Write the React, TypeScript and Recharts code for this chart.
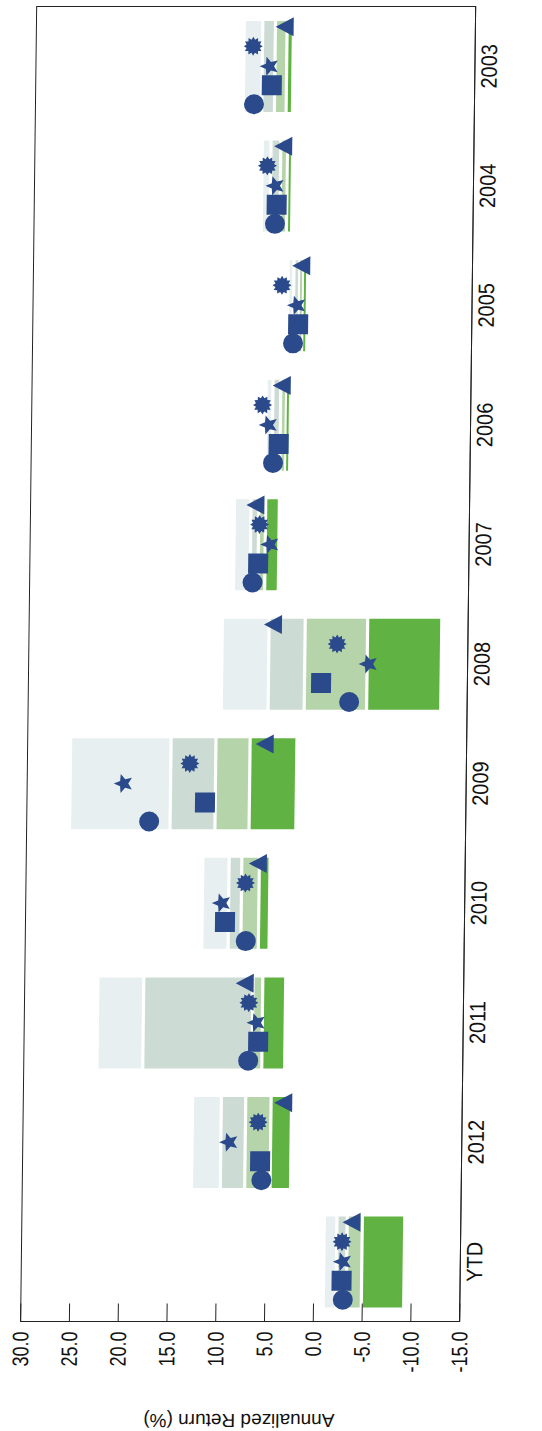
import { Bar, ComposedChart, Label, ReferenceArea, Scatter, XAxis, YAxis } from 'recharts';

const periods = ['YTD', '2012', '2011', '2010', '2009', '2008', '2007', '2006', '2005', '2004', '2003'];

// peer universe percentiles
const p5 = [-1.0, 12.65, 22.5, 11.9, 25.6, 10.2, 9.1, 6.0, 3.9, 6.7, 8.7];
const p25 = [-2.3, 9.7, 17.8, 9.2, 15.3, 5.4, 7.4, 5.3, 3.3, 5.8, 6.8];
const median = [-3.35, 7.2, 6.6, 7.9, 10.7, 1.7, 6.6, 4.5, 2.7, 4.8, 5.5];
const p75 = [-4.9, 4.6, 5.6, 6.1, 7.2, -4.7, 5.9, 3.9, 2.4, 4.1, 4.3];
const p95 = [-9.25, 2.5, 3.25, 5.0, 2.4, -12.3, 4.5, 3.6, 1.9, 3.6, 3.65];

// portfolio / benchmark markers
const circleVals = [-3.0, 5.5, 7.0, 7.4, 17.45, -2.9, 7.15, 5.2, 3.3, 5.3, 7.6];
const squareVals = [-2.85, 5.65, 6.0, 9.55, 11.75, 0.0, 6.6, 4.65, 2.8, 5.15, 5.8];
const starVals = [-2.95, 8.85, 6.2, 9.9, 20.1, -4.85, 5.4, 5.7, 2.95, 5.3, 6.05];
const burstVals = [-2.85, 5.9, 7.0, 7.5, 13.35, -1.6, 6.5, 6.35, 4.5, 6.15, 7.75];
const triangleVals = [-3.9, 3.25, 7.35, 6.15, 5.6, 4.9, 6.85, 4.3, 2.45, 4.45, 4.45];

const valueTicks = [30, 25, 20, 15, 10, 5, 0, -5, -10, -15];

const NAVY = '#2b4a8b';
const BOX_COLORS = ['#e7eff1', '#cddbd5', '#b5d4aa', '#60b343'];
const FONT = '"Liberation Sans", Arial, sans-serif';

const data = periods.map((period, i) => ({
  period,
  r1: [p25[i], p5[i]],
  r2: [median[i], p25[i]],
  r3: [p75[i], median[i]],
  r4: [p95[i], p75[i]],
  circle: circleVals[i],
  square: squareVals[i],
  star: starVals[i],
  burst: burstVals[i],
  triangle: triangleVals[i],
}));

// box with a thin white gap on the value edges, never thinner than 2px
function Box(props: any) {
  const { x, y, width, height, fill } = props;
  const top = Math.min(y, y + height);
  const h = Math.abs(height);
  let t = top + 1.6;
  let hh = h - 3.2;
  if (hh < 2) {
    t = top + h / 2 - 1;
    hh = 2;
  }
  return <rect x={x} y={t} width={width} height={hh} fill={fill} />;
}

function starPoints(cx: number, cy: number, n: number, ro: number, ri: number) {
  const pts: string[] = [];
  for (let i = 0; i < 2 * n; i++) {
    const r = i % 2 === 0 ? ro : ri;
    const a = -Math.PI / 2 + (i * Math.PI) / n;
    pts.push(`${cx + r * Math.cos(a)},${cy + r * Math.sin(a)}`);
  }
  return pts.join(' ');
}

const CircleMark = ({ cx, cy }: any) => <circle cx={cx - 38} cy={cy} r={10} fill={NAVY} />;
const SquareMark = ({ cx, cy }: any) => <rect x={cx - 19 - 10} y={cy - 10} width={20} height={20} fill={NAVY} />;
const StarMark = ({ cx, cy }: any) => <polygon points={starPoints(cx, cy, 5, 10, 4.5)} fill={NAVY} />;
const BurstMark = ({ cx, cy }: any) => <polygon points={starPoints(cx + 20, cy, 12, 9.5, 6.8)} fill={NAVY} />;
const TriangleMark = ({ cx, cy }: any) => (
  <polygon
    points={`${cx + 39.5},${cy - 10} ${cx + 30},${cy + 8} ${cx + 49},${cy + 8}`}
    fill={NAVY}
  />
);

// printed digits are taller than the font's own shape
const ValueTick = ({ x, y, payload }: any) => (
  <text
    transform={`translate(${x},${y}) scale(1,1.25)`}
    textAnchor="end"
    dy="0.355em"
    fontSize={18}
    fill="#111"
    fontFamily={FONT}
  >
    {Number(payload.value).toFixed(1)}
  </text>
);

const PeriodTick = ({ x, y, payload }: any) => (
  <text
    transform={`translate(${x},${y}) scale(1,1.12)`}
    textAnchor="middle"
    dy="0.71em"
    fontSize={20}
    fill="#111"
    fontFamily={FONT}
  >
    {payload.value}
  </text>
);

export default function App() {
  return (
    <div style={{ position: 'absolute', left: 0, top: 0, width: 542, height: 1431, overflow: 'hidden', background: '#fff' }}>
      <div
        style={{
          position: 'absolute',
          left: (542 - 1431) / 2,
          top: (1431 - 542) / 2,
          width: 1431,
          height: 542,
          // chart is printed sideways, and the scan leans a little
          transform: 'skewX(-0.7deg) rotate(-90deg)',
          fontFamily: FONT,
        }}
      >
        <ComposedChart
          width={1431}
          height={542}
          data={data}
          margin={{ top: 27.5, right: 6, bottom: 35.5, left: 0 }}
          barGap={-91}
        >
          <XAxis
            dataKey="period"
            height={40}
            tickLine={false}
            tickSize={5}
            tickMargin={1}
            axisLine={{ stroke: '#222' }}
            tick={<PeriodTick />}
            interval={0}
          />
          <YAxis
            width={110}
            type="number"
            domain={[-15, 30]}
            ticks={valueTicks}
            interval={0}
            tickSize={-18}
            tickMargin={28}
            axisLine={{ stroke: '#222' }}
            tickLine={{ stroke: '#222' }}
            tick={<ValueTick />}
          >
            <Label
              value="Annualized Return (%)"
              angle={-90}
              position="insideLeft"
              offset={11}
              style={{ textAnchor: 'middle', fontSize: 19, fill: '#111', fontFamily: FONT }}
            />
          </YAxis>
          <ReferenceArea y1={-15} y2={30} fill="none" stroke="#222" strokeWidth={1} ifOverflow="visible" />
          <Bar dataKey="r1" fill={BOX_COLORS[0]} barSize={91} shape={Box} isAnimationActive={false} />
          <Bar dataKey="r2" fill={BOX_COLORS[1]} barSize={91} shape={Box} isAnimationActive={false} />
          <Bar dataKey="r3" fill={BOX_COLORS[2]} barSize={91} shape={Box} isAnimationActive={false} />
          <Bar dataKey="r4" fill={BOX_COLORS[3]} barSize={91} shape={Box} isAnimationActive={false} />
          <Scatter dataKey="circle" shape={CircleMark} isAnimationActive={false} />
          <Scatter dataKey="square" shape={SquareMark} isAnimationActive={false} />
          <Scatter dataKey="star" shape={StarMark} isAnimationActive={false} />
          <Scatter dataKey="burst" shape={BurstMark} isAnimationActive={false} />
          <Scatter dataKey="triangle" shape={TriangleMark} isAnimationActive={false} />
        </ComposedChart>
      </div>
    </div>
  );
}
